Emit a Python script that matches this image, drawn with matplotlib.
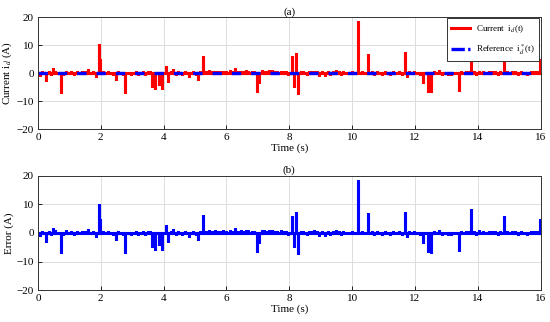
import numpy as np
import matplotlib
matplotlib.use("Agg")
import matplotlib.pyplot as plt
from matplotlib.lines import Line2D

plt.rcParams['font.family'] = ['Liberation Serif', 'DejaVu Serif']
plt.rcParams['mathtext.fontset'] = 'stix'

# Spike events (time s, value A)
spike_t = [0.27, 0.48, 0.72, 1.60, 1.86, 1.93, 1.98, 2.47, 2.78, 3.20, 3.63, 3.71, 3.84, 3.96,
           4.08, 4.14, 4.30, 4.80, 5.08, 5.26, 6.28, 6.97, 7.03, 7.45, 8.10, 8.15, 8.22, 8.29,
           9.14, 9.48, 10.20, 10.52, 11.69, 11.74, 12.27, 12.40, 12.52, 12.75, 13.39, 13.78,
           14.82, 15.97]
spike_v = [-3.0, 1.8, -7.0, 1.5, -1.4, 10.3, 5.0, -2.3, -7.0, -0.8, -5.0, -5.8, -4.3, -5.8,
           2.7, -3.2, 1.5, -1.3, -2.6, 6.2, 1.7, -6.8, -3.4, 1.2, 6.0, -5.0, 7.3, -7.3,
           -1.2, 1.0, 18.7, 6.9, 7.5, -1.4, -3.4, -6.6, -6.9, 1.0, -6.4, 8.3,
           5.9, 5.0]
# Small baseline ripples (time s, value A)
ripple_t = [0.05, 0.12, 0.18, 0.35, 0.42, 0.55, 0.62, 0.80, 0.90, 0.98, 1.05, 1.15, 1.25, 1.33,
            1.40, 1.50, 1.68, 1.75, 2.08, 2.15, 2.22, 2.30, 2.38, 2.55, 2.62, 2.70, 2.88, 2.95,
            3.05, 3.12, 3.28, 3.35, 3.42, 3.50, 3.57, 4.22, 4.38, 4.45, 4.52, 4.60, 4.68, 4.88,
            4.95, 5.02, 5.15, 5.35, 5.45, 5.55, 5.62, 5.70, 5.80, 5.90, 6.00, 6.10, 6.20, 6.38,
            6.45, 6.55, 6.62, 6.70, 6.80, 6.88, 7.12, 7.20, 7.28, 7.35, 7.55, 7.62, 7.72, 7.80,
            7.88, 7.95, 8.38, 8.45, 8.55, 8.62, 8.70, 8.80, 8.88, 8.95, 9.05, 9.22, 9.30, 9.38,
            9.58, 9.65, 9.72, 9.80, 9.90, 9.98, 10.08, 10.30, 10.40, 10.62, 10.70, 10.78, 10.88,
            10.95, 11.05, 11.15, 11.22, 11.30, 11.40, 11.50, 11.58, 11.82, 11.90, 11.98, 12.08,
            12.15, 12.62, 12.85, 12.95, 13.05, 13.15, 13.25, 13.48, 13.55, 13.62, 13.70, 13.88,
            13.95, 14.05, 14.15, 14.25, 14.35, 14.45, 14.55, 14.65, 14.72, 14.92, 15.00, 15.10,
            15.18, 15.28, 15.38, 15.48, 15.58, 15.68, 15.78, 15.88]
ripple_v = [-0.9, 0.8, -0.5, 0.7, -0.6, 0.9, 0.5, -0.6, 0.9, 0.5, 0.7, -0.6, 0.6, -0.5,
            0.7, 0.6, 0.5, 0.6, 0.7, -0.5, 0.6, 0.5, -0.6, 0.7, 0.5, -0.6, 0.5, -0.6,
            0.5, 0.6, 0.5, 0.7, -0.6, 0.6, 0.8, 0.6, -0.7, 0.6, 0.5, -0.6, 0.7, 0.5,
            0.8, -0.6, 0.6, 0.8, 1.0, 0.7, 0.9, 0.8, 0.7, 0.9, 0.8, 1.0, 0.7, 0.8,
            0.9, 0.8, 1.0, 0.9, 0.8, 0.7, 1.0, 0.9, 0.8, 1.1, 0.8, 0.7, 0.9, 0.6,
            0.8, -0.6, 0.8, 0.6, -0.7, 0.7, 0.6, 0.9, 0.7, -0.9, 0.7, 0.6, -0.8, 0.8,
            0.7, -0.6, 0.6, 0.5, -0.5, 0.6, 0.5, 0.6, 0.5, 0.7, -0.6, 0.6, 0.5,
            -0.6, 0.7, 0.5, -0.7, 0.6, 0.5, 0.7, -0.6, 0.6, -0.5, 0.7, 0.5,
            -0.6, 0.6, -0.7, 0.5, -0.6, -0.7, 0.5, 0.6, -0.5, 0.7, 0.6, 0.8,
            -0.6, 0.9, 0.6, -0.5, 0.7, 0.6, 0.8, -0.6, 0.6, 0.7, -0.5, 0.8,
            0.6, -0.6, 0.7, 0.5, -0.6, 0.7, 0.6, 0.8]

t_end = 16.0

ev_t = np.array(spike_t + ripple_t)
ev_v = np.array(spike_v + ripple_v)
order = np.argsort(ev_t)
ev_t, ev_v = ev_t[order], ev_v[order]

# Build a pulse series: baseline zero, each event a narrow vertical stroke
xs, ys = [0.0], [0.0]
for tt, vv in zip(ev_t, ev_v):
    xs += [tt, tt, tt]
    ys += [0.0, vv, 0.0]
xs.append(t_end); ys.append(0.0)
xs = np.array(xs); ys = np.array(ys)

ref_t = [0.0, t_end]
ref_v = [0.0, 0.0]

fig = plt.figure(figsize=(5.5, 3.22), dpi=100)
ax1 = fig.add_axes([0.069, 0.599, 0.914, 0.348])
ax2 = fig.add_axes([0.069, 0.099, 0.914, 0.355])

ax1.plot(xs, ys, color='#ff0000', lw=2.2, solid_joinstyle='miter')
ax1.plot(ref_t, ref_v, color='#0000ff', lw=2.4, ls=(0, (2.8, 3.0)))
ax2.plot(xs, ys, color='#0000ff', lw=2.2, solid_joinstyle='miter')

for ax, title in [(ax1, '(a)'), (ax2, '(b)')]:
    ax.set_xlim(0, 16)
    ax.set_ylim(-20, 20)
    ax.set_xticks(np.arange(0, 17, 2))
    ax.set_yticks([-20, -10, 0, 10, 20])
    ax.grid(True, color='#dddddd', lw=0.7)
    ax.set_axisbelow(True)
    ax.tick_params(labelsize=8, direction='in', length=3, width=0.6, pad=3)
    for s in ax.spines.values():
        s.set_linewidth(0.7)
        s.set_color('#333333')
    ax.set_title(title, fontsize=8, pad=2)
    ax.set_xlabel('Time (s)', fontsize=8, labelpad=1)

ax1.set_ylabel(r'Current i$_d$ (A)', fontsize=8, labelpad=2)
ax2.set_ylabel('Error (A)', fontsize=8, labelpad=2)

handles = [Line2D([], [], color='#ff0000', lw=2.2),
           Line2D([], [], color='#0000ff', lw=2.4, ls=(0, (4.0, 1.0)))]
labels = [r'Current  i$_d$(t)', r'Reference  i$^*_d$(t)']
leg = ax1.legend(handles, labels, loc='upper right', fontsize=6.5, frameon=True, fancybox=False,
                 edgecolor='#333333', framealpha=1, handlelength=2.1, borderaxespad=0.15,
                 labelspacing=0.9, handletextpad=0.6, borderpad=0.5)
leg.get_frame().set_linewidth(0.7)

fig.savefig('out.png', dpi=100)
